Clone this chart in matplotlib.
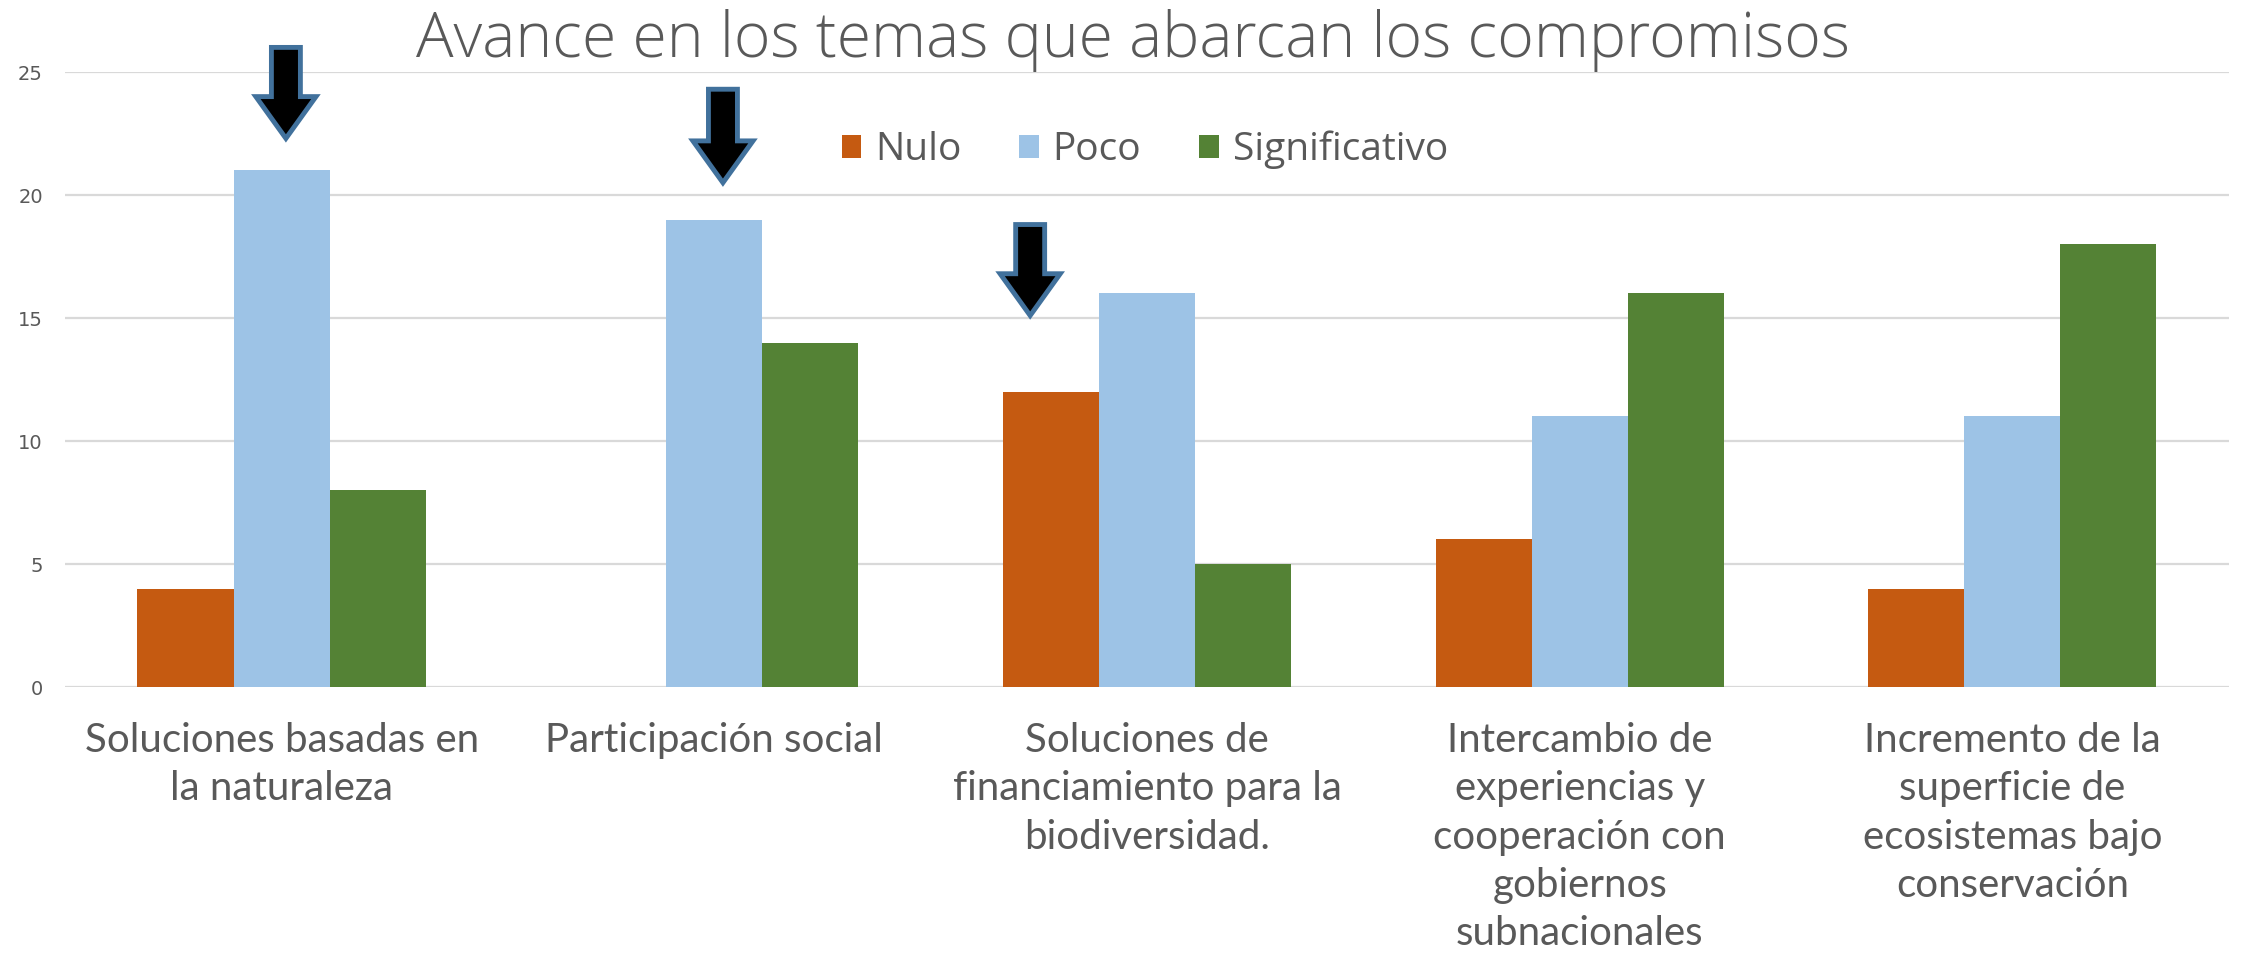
import numpy as np
import matplotlib
matplotlib.use("Agg")
import matplotlib.pyplot as plt

categories = [
    "Soluciones basadas en\nla naturaleza",
    "Participación social",
    "Soluciones de\nfinanciamiento para la\nbiodiversidad.",
    "Intercambio de\nexperiencias y\ncooperación con\ngobiernos\nsubnacionales",
    "Incremento de la\nsuperficie de\necosistemas bajo\nconservación",
]
nulo = [4, 0, 12, 6, 4]
poco = [21, 19, 16, 11, 11]
significativo = [8, 14, 5, 16, 18]
series_names = ["Nulo", "Poco", "Significativo"]
colors = ["#C55A11", "#9DC3E6", "#548235"]
yticks = [0, 5, 10, 15, 20, 25]

# arrows pointing at the highlighted topics: (category index offset, top, tip)
arrows = [(0.01, 26.0, 22.3), (1.02, 24.3, 20.5), (1.73, 18.8, 15.1)]

grey = "#595959"

fig = plt.figure(figsize=(22.49, 9.55), dpi=100)
ax = fig.add_axes([0.029, 0.2806, 0.962, 0.644])

x = np.arange(len(categories))
w = 0.222
for i, (vals, name, c) in enumerate(zip([nulo, poco, significativo], series_names, colors)):
    ax.bar(x + (i - 1) * w, vals, width=w, color=c, label=name, zorder=2)

ax.set_xlim(-0.5, len(categories) - 0.5)
ax.set_ylim(0, 25)
ax.set_yticks(yticks)
ax.yaxis.grid(True, color="#D9D9D9", lw=1.6, zorder=0)
for s in ax.spines.values():
    s.set_visible(False)
ax.tick_params(axis="y", length=0, pad=16, labelsize=14, labelcolor=grey)
ax.tick_params(axis="x", length=0, pad=25, labelcolor=grey)
ax.set_xticks(x)
ax.set_xticklabels(categories, fontsize=29, family="Lato",
                   linespacing=1.38, va="top")

for ax_x, top, tip in arrows:
    ax.arrow(ax_x, top, 0, tip - top, width=0.067, head_width=0.139, head_length=1.7,
             length_includes_head=True, fc="black", ec="#41719C", lw=3.5,
             clip_on=False, zorder=5)

fig.text(0.504, 0.958, "Avance en los temas que abarcan los compromisos",
         ha="center", va="center", fontsize=45, color=grey, family="Open Sans", weight="light")

fig.legend(loc="center", bbox_to_anchor=(0.509, 0.843), ncol=3, frameon=False,
           labelcolor=grey, handlelength=0.5, handleheight=0.5,
           handletextpad=0.35, columnspacing=1.5, prop={"family": "Open Sans", "size": 28})

fig.savefig("out.png", dpi=100)
